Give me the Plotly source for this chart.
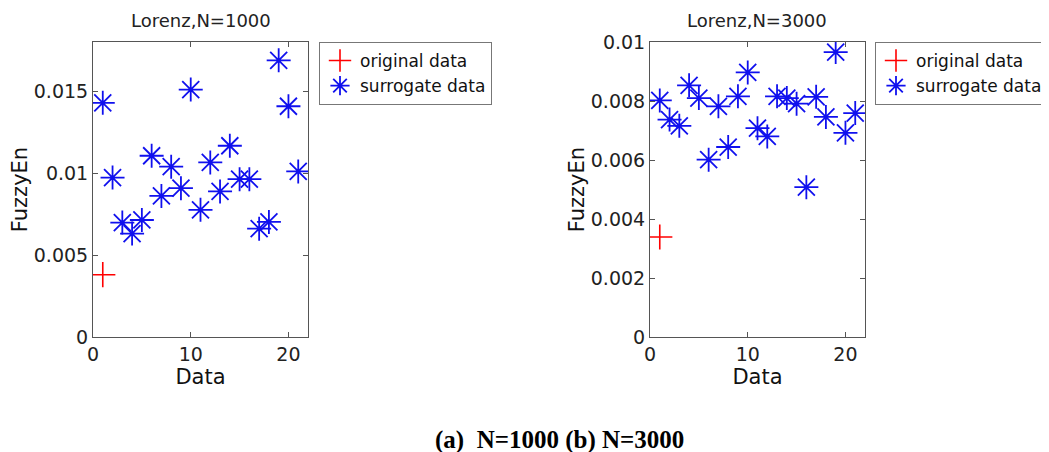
import plotly.graph_objects as go

# ---- data ----
idx = list(range(1, 22))
surr_1000 = [0.01429, 0.00973, 0.00698, 0.00631, 0.00714, 0.01106, 0.00861, 0.01039,
             0.00908, 0.01510, 0.00776, 0.01065, 0.00888, 0.01167, 0.00963, 0.00963,
             0.00661, 0.00702, 0.01688, 0.01408, 0.01010]
orig_1000 = [0.0038]
surr_3000 = [0.00802, 0.00737, 0.00716, 0.00853, 0.00810, 0.00601, 0.00782, 0.00644,
             0.00816, 0.00897, 0.00708, 0.00680, 0.00816, 0.00810, 0.00791, 0.00508,
             0.00814, 0.00746, 0.00966, 0.00692, 0.00759]
orig_3000 = [0.00339]
orig_x = [1]

xticks = [0, 10, 20]
yticks_1000 = [0, 0.005, 0.01, 0.015]
yticklabels_1000 = ["0", "0.005", "0.01", "0.015"]
yticks_3000 = [0, 0.002, 0.004, 0.006, 0.008, 0.01]
yticklabels_3000 = ["0", "0.002", "0.004", "0.006", "0.008", "0.01"]

titles = ["Lorenz,N=1000", "Lorenz,N=3000"]
caption = "(a)  N=1000 (b) N=3000"

W, H = 1049, 452
OFF = 8  # page body margin offset

def px(X):
    return (X - OFF) / W

def py(Y):
    return 1 - (Y - OFF) / H

SANS = "DejaVu Sans"
AX = "#555555"

fig = go.Figure()

def add_panel(orig, surr, xa, ya, legend):
    fig.add_trace(go.Scatter(x=orig_x, y=orig, mode="markers", name="original data",
                             xaxis=xa, yaxis=ya, legend=legend,
                             marker=dict(symbol="cross-thin-open", size=18, color="#ff0000",
                                         line=dict(color="#ff0000", width=1.6))))
    fig.add_trace(go.Scatter(x=idx, y=surr, mode="markers", name="surrogate data",
                             xaxis=xa, yaxis=ya, legend=legend,
                             marker=dict(symbol="asterisk-open", size=20, color="#1010ee",
                                         line=dict(color="#1010ee", width=1.8))))

add_panel(orig_1000, surr_1000, "x", "y", "legend")
add_panel(orig_3000, surr_3000, "x2", "y2", "legend2")

ydom = [py(337), py(42)]
common_x = dict(range=[0, 22], tickvals=xticks, ticks="inside", ticklen=5, mirror="ticks",
                showline=True, linecolor=AX, linewidth=1, tickcolor=AX, showgrid=False,
                zeroline=False, automargin=False,
                tickfont=dict(family=SANS, size=19, color="#222"),
                title=dict(text="Data", font=dict(family=SANS, size=21, color="#111"), standoff=0))
common_y = dict(ticks="inside", ticklen=5, mirror="ticks", showline=True, linecolor=AX,
                linewidth=1, tickcolor=AX, showgrid=False, zeroline=False, automargin=False,
                tickfont=dict(family=SANS, size=19, color="#222"),
                title=dict(text="FuzzyEn", font=dict(family=SANS, size=21, color="#111"), standoff=0))

fig.update_layout(
    width=W, height=H, margin=dict(l=0, r=0, t=0, b=0, autoexpand=False),
    paper_bgcolor="white", plot_bgcolor="white",
    xaxis=dict(domain=[px(93), px(308)], anchor="y", **common_x),
    yaxis=dict(domain=ydom, anchor="x", range=[0, 0.018], tickvals=yticks_1000,
               ticktext=yticklabels_1000, **common_y),
    xaxis2=dict(domain=[px(650), px(865)], anchor="y2", **common_x),
    yaxis2=dict(domain=ydom, anchor="x2", range=[0, 0.01], tickvals=yticks_3000,
                ticktext=yticklabels_3000, **common_y),
    legend=dict(x=px(319), y=py(42), xanchor="left", yanchor="top",
                bordercolor="#777", borderwidth=1, bgcolor="white",
                font=dict(family=SANS, size=17, color="#111"), tracegroupgap=0),
    legend2=dict(x=px(875), y=py(42), xanchor="left", yanchor="top",
                 bordercolor="#777", borderwidth=1, bgcolor="white",
                 font=dict(family=SANS, size=17, color="#111"), tracegroupgap=0),
    showlegend=True,
)

for t, xc in zip(titles, [(93 + 308) / 2, (650 + 865) / 2]):
    fig.add_annotation(text=t, x=px(xc), y=py(21), xref="paper", yref="paper",
                       xanchor="center", yanchor="middle",
                       showarrow=False, font=dict(family=SANS, size=18, color="#222"))

fig.add_annotation(text="<b>" + caption + "</b>", x=px(560), y=py(440),
                   xref="paper", yref="paper", xanchor="center", yanchor="middle",
                   showarrow=False,
                   font=dict(family="Liberation Serif", size=25, color="black"))

fig.write_html("out.html")
